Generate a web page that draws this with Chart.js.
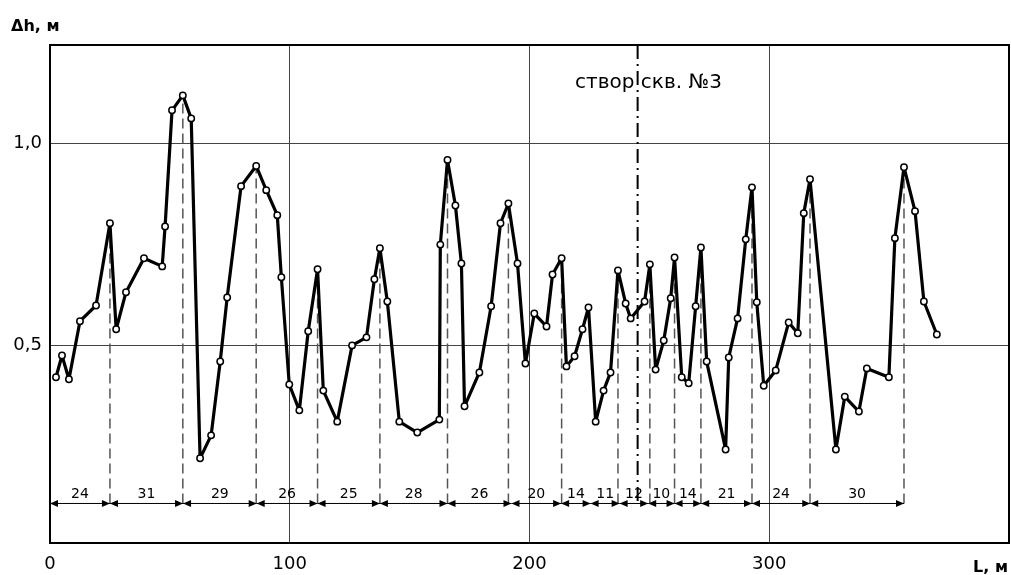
<!DOCTYPE html>
<html>
<head>
<meta charset="utf-8">
<script src="https://cdn.jsdelivr.net/npm/chart.js@4"></script>
<style>
  html, body { margin: 0; padding: 0; background: #fff; }
  #wrap { width: 1011px; height: 575px; }
</style>
</head>
<body>
<div id="wrap"><canvas id="chart" width="1011" height="575"></canvas></div>
<script>
// Профиль: расстояние L (м) и превышение Δh (м)
const xs = [2.5, 5, 7.9, 12.5, 19.2, 25, 27.6, 31.7, 39.2, 46.8,
  48, 50.9, 55.4, 58.9, 62.6, 67.2, 71, 73.9, 79.7, 86,
  90.2, 94.8, 96.5, 99.8, 104, 107.7, 111.6, 114, 119.8, 126,
  132, 135.3, 137.6, 140.7, 145.7, 153.2, 162.4, 162.8, 165.8, 169.1,
  171.6, 172.9, 179.1, 184, 187.9, 191.2, 195, 198.3, 202, 207.1,
  209.6, 213.4, 215.4, 218.8, 222.1, 224.6, 227.6, 230.9, 233.8, 236.9,
  240.1, 242.2, 248, 250.2, 252.6, 256, 258.9, 260.5, 263.5, 266.4,
  269.3, 271.5, 273.9, 281.8, 283.1, 286.8, 290.2, 292.8, 294.8, 297.7,
  302.7, 308.1, 311.9, 314.4, 317, 327.8, 331.5, 337.4, 340.7, 349.9,
  352.4, 356.2, 360.8, 364.5, 369.9];
const ys = [0.421, 0.475, 0.416, 0.56, 0.599, 0.803, 0.54, 0.632, 0.716, 0.696,
  0.795, 1.083, 1.12, 1.063, 0.22, 0.277, 0.46, 0.619, 0.895, 0.945,
  0.885, 0.823, 0.669, 0.403, 0.339, 0.535, 0.689, 0.388, 0.311, 0.5,
  0.52, 0.664, 0.741, 0.609, 0.311, 0.284, 0.316, 0.75, 0.96, 0.847,
  0.703, 0.349, 0.433, 0.597, 0.803, 0.852, 0.703, 0.455, 0.579, 0.547,
  0.676, 0.716, 0.448, 0.473, 0.54, 0.594, 0.311, 0.388, 0.433, 0.686,
  0.604, 0.567, 0.609, 0.701, 0.44, 0.512, 0.617, 0.718, 0.421, 0.406,
  0.597, 0.743, 0.46, 0.242, 0.47, 0.567, 0.763, 0.892, 0.607, 0.4,
  0.438, 0.557, 0.53, 0.828, 0.912, 0.242, 0.373, 0.336, 0.443, 0.421,
  0.766, 0.942, 0.833, 0.609, 0.527];

// вершины, к которым идут пунктирные линии
const peakIdx = [5, 12, 19, 26, 32, 38, 45, 51, 59, 63, 67, 71, 77, 84, 91];

// размерные отрезки внизу
const segBounds = [0, 25, 55.5, 86.2, 111.6, 137.6, 165.8, 192.5, 213.2, 225.5,
  237.6, 249.5, 260.5, 271.6, 292.8, 317.1, 356.2];
const segLabels = ['24', '31', '29', '26', '25', '28', '26', '20', '14', '11',
  '12', '10', '14', '21', '24', '30'];
const dimY = 0.108;

const xTicks = [0, 100, 200, 300];
const yTicks = [0.5, 1.0];

const stvorX = 245.1;
const stvorLabel = 'створ скв. №3';

Chart.defaults.font.family = 'DejaVu Sans';
Chart.defaults.color = '#000';

const points = xs.map((x, i) => ({ x: x, y: ys[i] }));

const dashSets = peakIdx.map(i => ({
  data: [{ x: xs[i], y: dimY }, { x: xs[i], y: ys[i] }],
  showLine: true,
  borderColor: '#555',
  borderWidth: 1.5,
  borderDash: [10, 5],
  pointRadius: 0,
  order: 2
}));

const stvorSet = {
  data: [{ x: stvorX, y: 1.245 }, { x: stvorX, y: dimY }],
  showLine: true,
  borderColor: '#000',
  borderWidth: 2,
  borderDash: [14, 5, 2, 5],
  pointRadius: 0,
  order: 1
};

const mainSet = {
  data: points,
  showLine: true,
  borderColor: '#000',
  borderWidth: 3.2,
  borderJoinStyle: 'round',
  borderCapStyle: 'round',
  pointRadius: 3.2,
  pointBackgroundColor: '#fff',
  pointBorderColor: '#000',
  pointBorderWidth: 1.5,
  tension: 0,
  order: 0
};

// рамка, размерные линии и подписи
const extras = {
  id: 'extras',
  afterDatasetsDraw(chart) {
    const ctx = chart.ctx;
    const xS = chart.scales.x, yS = chart.scales.y;
    const a = chart.chartArea;
    ctx.save();

    // размерная линия со стрелками
    const py = yS.getPixelForValue(dimY);
    ctx.strokeStyle = '#000';
    ctx.fillStyle = '#000';
    ctx.lineWidth = 1;
    ctx.font = '14px "DejaVu Sans"';
    ctx.textAlign = 'center';
    ctx.textBaseline = 'alphabetic';
    for (let i = 0; i < segLabels.length; i++) {
      const p1 = xS.getPixelForValue(segBounds[i]);
      const p2 = xS.getPixelForValue(segBounds[i + 1]);
      ctx.beginPath();
      ctx.moveTo(p1, py);
      ctx.lineTo(p2, py);
      ctx.stroke();
      ctx.beginPath();
      ctx.moveTo(p1, py); ctx.lineTo(p1 + 8, py - 3.5); ctx.lineTo(p1 + 8, py + 3.5);
      ctx.closePath(); ctx.fill();
      ctx.beginPath();
      ctx.moveTo(p2, py); ctx.lineTo(p2 - 8, py - 3.5); ctx.lineTo(p2 - 8, py + 3.5);
      ctx.closePath(); ctx.fill();
      ctx.fillText(segLabels[i], (p1 + p2) / 2, py - 5);
    }

    // надпись створа
    const sx = xS.getPixelForValue(stvorX);
    ctx.font = '20px "DejaVu Sans"';
    ctx.textAlign = 'left';
    const wA = ctx.measureText('створ').width;
    const wS = ctx.measureText(' ').width;
    ctx.fillText(stvorLabel, sx - wA - wS / 2, 88);

    // рамка поля
    ctx.lineWidth = 2;
    ctx.strokeRect(a.left, a.top, a.right - a.left, a.bottom - a.top);

    // названия осей
    ctx.font = 'bold 16px "DejaVu Sans"';
    ctx.textAlign = 'left';
    ctx.fillText('Δh, м', 11, 31);
    ctx.textAlign = 'right';
    ctx.fillText('L, м', 1008, 572);
    ctx.restore();
  }
};

new Chart(document.getElementById('chart'), {
  type: 'scatter',
  data: { datasets: [mainSet, stvorSet].concat(dashSets) },
  options: {
    responsive: false,
    animation: false,
    layout: { autoPadding: false, padding: { top: 45, right: 2, left: 0, bottom: 0 } },
    plugins: { legend: { display: false }, tooltip: { enabled: false } },
    scales: {
      x: {
        type: 'linear',
        min: 0,
        max: 400,
        afterBuildTicks(scale) { scale.ticks = xTicks.map(v => ({ value: v })); },
        afterFit(scale) { scale.height = 32; scale.paddingRight = 0; scale.paddingLeft = 0; },
        grid: { color: '#444', lineWidth: 1, drawTicks: false },
        border: { display: false },
        ticks: { font: { size: 18 }, padding: 11, maxRotation: 0 }
      },
      y: {
        type: 'linear',
        min: 0.01,
        max: 1.245,
        afterBuildTicks(scale) { scale.ticks = yTicks.map(v => ({ value: v })); },
        afterFit(scale) { scale.width = 50; scale.paddingTop = 0; scale.paddingBottom = 0; },
        grid: { color: '#444', lineWidth: 1, drawTicks: false },
        border: { display: false },
        ticks: {
          font: { size: 18 },
          padding: 8,
          callback: v => v.toFixed(1).replace('.', ',')
        }
      }
    }
  },
  plugins: [extras]
});
</script>
</body>
</html>
